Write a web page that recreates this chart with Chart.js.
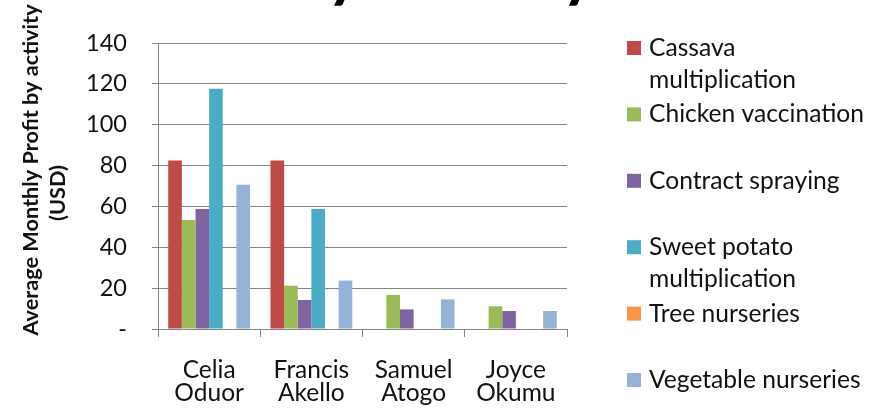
<!DOCTYPE html>
<html>
<head>
<meta charset="utf-8">
<script src="https://cdn.jsdelivr.net/npm/chart.js@4/dist/chart.umd.min.js"></script>
<style>
  html, body { margin: 0; padding: 0; background: #ffffff; }
  canvas { display: block; }
</style>
</head>
<body>
<canvas id="chart" width="881" height="413"></canvas>
<script>
// Entrepreneurs (two-line category labels)
const entrepreneurs = [['Celia', 'Oduor'], ['Francis', 'Akello'], ['Samuel', 'Atogo'], ['Joyce', 'Okumu']];

// Activities and their legend line breaks
const activities = ['Cassava multiplication', 'Chicken vaccination', 'Contract spraying',
                    'Sweet potato multiplication', 'Tree nurseries', 'Vegetable nurseries'];
const legendLines = [['Cassava', 'multiplication'], ['Chicken vaccination'], ['Contract spraying'],
                     ['Sweet potato', 'multiplication'], ['Tree nurseries'], ['Vegetable nurseries']];

// Average monthly profit (USD) per activity, one value per entrepreneur
const cassava       = [82.5, 82.5, 0, 0];
const chicken       = [53.4, 21.2, 16.7, 11.1];
const spraying      = [58.8, 14.2, 9.6, 8.8];
const sweetPotato   = [117.6, 58.8, 0, 0];
const treeNurseries = [0, 0, 0, 0];
const vegetable     = [70.6, 23.7, 14.5, 8.8];

// Value axis
const yMin = 0, yMax = 140, yStep = 20;
const zeroLabel = '-';

const chartTitle = 'Profit by activity';
const yTitle = ['Average Monthly Profit by activity', '(USD)'];

const seriesColors = ['#BE4B48', '#9BBB59', '#8064A2', '#4BACC6', '#F79646', '#95B3D7'];
const seriesValues = [cassava, chicken, spraying, sweetPotato, treeNurseries, vegetable];

const FONT = 'Lato, "Open Sans", sans-serif';
const GRID = '#858585';

// Title sits above the visible area; only its descenders reach the top edge
const titlePlugin = {
  id: 'topTitle',
  afterDraw(chart) {
    const ctx = chart.ctx;
    ctx.save();
    ctx.font = 'bold 66px ' + FONT;
    ctx.fillStyle = '#000';
    ctx.textAlign = 'right';
    ctx.textBaseline = 'alphabetic';
    ctx.fillText(chartTitle, 596, -6);
    ctx.restore();
  }
};

// Rotated two-line value-axis title
const valueAxisTitle = {
  id: 'valueAxisTitle',
  afterDraw(chart) {
    const ctx = chart.ctx;
    const spots = [[31, 170], [58, 193]];
    ctx.save();
    ctx.font = 'bold 21.7px ' + FONT;
    ctx.fillStyle = '#111';
    ctx.textAlign = 'center';
    ctx.textBaseline = 'middle';
    yTitle.forEach((line, i) => {
      ctx.save();
      ctx.translate(spots[i][0], spots[i][1]);
      ctx.rotate(-Math.PI / 2);
      ctx.fillText(line, 0, 0);
      ctx.restore();
    });
    ctx.restore();
  }
};

// Right-hand legend with wrapped entries
const sideLegend = {
  id: 'sideLegend',
  afterDraw(chart) {
    const ctx = chart.ctx;
    const boxX = 627, textX = 649, firstY = 48, step = 66.4, lineGap = 32, box = 14;
    ctx.save();
    ctx.font = '24.6px ' + FONT;
    ctx.textAlign = 'left';
    ctx.textBaseline = 'middle';
    chart.data.datasets.forEach((ds, i) => {
      const y = firstY + i * step;
      ctx.fillStyle = ds.backgroundColor;
      ctx.fillRect(boxX, y - box / 2, box, box);
      ctx.fillStyle = '#111';
      legendLines[i].forEach((line, j) => ctx.fillText(line, textX, y + j * lineGap));
    });
    ctx.restore();
  }
};

new Chart(document.getElementById('chart'), {
  type: 'bar',
  data: {
    labels: entrepreneurs,
    datasets: activities.map((name, i) => ({
      label: name,
      data: seriesValues[i],
      backgroundColor: seriesColors[i],
      borderWidth: 0
    }))
  },
  options: {
    responsive: false,
    devicePixelRatio: 1,
    animation: false,
    datasets: { bar: { categoryPercentage: 0.8, barPercentage: 1.0 } },
    layout: { padding: { left: 0, right: 314, top: 43, bottom: 0 } },
    plugins: {
      legend: { display: false },
      title: { display: false },
      tooltip: { enabled: false }
    },
    scales: {
      x: {
        grid: { drawOnChartArea: false, color: GRID, tickLength: 8, offset: true },
        border: { color: GRID, width: 1 },
        ticks: { color: '#111', font: { family: FONT, size: 24.5, lineHeight: 0.92 }, padding: 22, maxRotation: 0 },
        afterFit(scale) { scale.height = 84; }
      },
      y: {
        min: yMin, max: yMax,
        grid: { color: GRID, tickLength: 6 },
        border: { color: GRID, width: 1 },
        ticks: {
          stepSize: yStep,
          color: '#111',
          font: { family: FONT, size: 23.5 },
          padding: 25,
          callback: (v) => (v === 0 ? zeroLabel : v)
        },
        title: { display: false },
        afterFit(scale) { scale.width = 158; }
      }
    }
  },
  plugins: [titlePlugin, valueAxisTitle, sideLegend]
});
</script>
</body>
</html>
